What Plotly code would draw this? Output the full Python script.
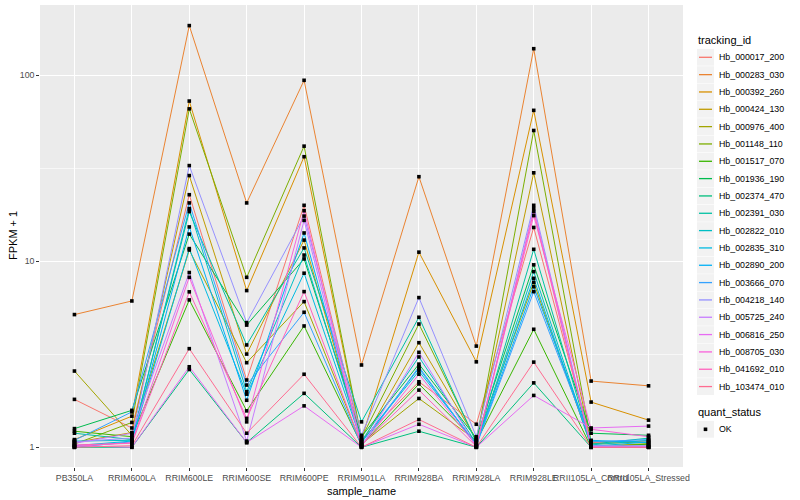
import plotly.graph_objects as go

samples = ["PB350LA", "RRIM600LA", "RRIM600LE", "RRIM600SE", "RRIM600PE", "RRIM901LA",
           "RRIM928BA", "RRIM928LA", "RRIM928LE", "RRII105LA_Control", "RRII105LA_Stressed"]

ids = ["Hb_000017_200", "Hb_000283_030", "Hb_000392_260", "Hb_000424_130", "Hb_000976_400",
       "Hb_001148_110", "Hb_001517_070", "Hb_001936_190", "Hb_002374_470", "Hb_002391_030",
       "Hb_002822_010", "Hb_002835_310", "Hb_002890_200", "Hb_003666_070", "Hb_004218_140",
       "Hb_005725_240", "Hb_006816_250", "Hb_008705_030", "Hb_041692_010", "Hb_103474_010"]

colors = ["#F8766D", "#EA8331", "#D89000", "#C09B00", "#A3A500", "#7CAE00", "#39B600", "#00BB4E",
          "#00BF7D", "#00C1A3", "#00BFC4", "#00BAE0", "#00B0F6", "#35A2FF", "#9590FF", "#C77CFF",
          "#E76BF3", "#FA62DB", "#FF62BC", "#FF6C91"]

status_labels = ["OK"]

fpkm1 = [
    [1.81, 1.27, 22.8, 2.30, 20.0, 1.09, 2.25, 1.33, 15.2, 1.06, 1.08],
    [5.17, 6.12, 185, 20.6, 94, 2.77, 28.5, 3.5, 139, 2.27, 2.14],
    [1.10, 1.47, 72.7, 6.96, 36.5, 1.10, 11.2, 2.88, 64.8, 1.75, 1.40],
    [1.06, 1.20, 28.9, 3.17, 13.0, 1.05, 3.65, 1.10, 29.9, 1.05, 1.03],
    [2.57, 1.16, 11.5, 2.85, 6.07, 1.04, 1.83, 1.09, 7.7, 1.02, 1.0],
    [1.04, 1.36, 66.0, 8.2, 41.6, 1.12, 4.6, 1.08, 50.5, 1.08, 1.05],
    [1.22, 1.14, 6.2, 1.57, 4.49, 1.03, 2.19, 1.07, 4.31, 1.0, 1.04],
    [1.26, 1.58, 14.0, 4.54, 10.3, 1.14, 2.80, 1.12, 9.57, 1.19, 1.16],
    [1.0, 1.0, 2.62, 1.06, 1.95, 1.0, 1.22, 1.0, 2.22, 1.0, 1.0],
    [1.19, 1.10, 18.5, 3.55, 11.8, 1.37, 5.0, 1.06, 11.6, 1.04, 1.12],
    [1.08, 1.09, 19.2, 1.99, 10.8, 1.08, 3.06, 1.05, 8.8, 1.03, 1.09],
    [1.02, 1.08, 11.7, 1.93, 8.63, 1.07, 2.57, 1.04, 8.1, 1.01, 1.07],
    [1.0, 1.07, 15.3, 1.79, 14.2, 1.06, 2.66, 1.03, 7.3, 1.09, 1.06],
    [1.09, 1.55, 20.6, 2.16, 5.32, 1.02, 2.71, 1.02, 6.87, 1.07, 1.10],
    [1.07, 1.12, 32.7, 4.68, 17.5, 1.16, 6.38, 1.14, 20.0, 1.02, 1.02],
    [1.05, 1.19, 8.7, 1.08, 16.6, 1.01, 3.24, 1.01, 19.2, 1.01, 1.01],
    [1.02, 1.0, 2.71, 1.06, 1.67, 1.0, 1.33, 1.0, 1.90, 1.27, 1.30],
    [1.01, 1.06, 8.2, 1.37, 18.7, 1.02, 2.47, 1.02, 17.6, 1.25, 1.14],
    [1.03, 1.05, 6.85, 1.43, 6.87, 1.03, 2.03, 1.01, 18.5, 1.0, 1.0],
    [1.0, 1.02, 3.39, 1.19, 2.47, 1.0, 1.41, 1.0, 2.87, 1.0, 1.0],
]

FONT = "Liberation Sans, Arial, sans-serif"
W, H = 800, 500
ML, MR, MT, MB = 40, 117, 5, 33
PW, PH = W - ML - MR, H - MT - MB


def px(x):
    return (x - ML) / PW


def py(y):
    return (H - MB - y) / PH


fig = go.Figure()
for name, col, vals in zip(ids, colors, fpkm1):
    fig.add_trace(go.Scatter(x=samples, y=vals, mode="lines", name=name,
                             line=dict(color=col, width=1), showlegend=False))

all_x = [s for _ in fpkm1 for s in samples]
all_y = [v for row in fpkm1 for v in row]
fig.add_trace(go.Scatter(x=all_x, y=all_y, mode="markers", name=status_labels[0],
                         marker=dict(color="black", symbol="square", size=3.6, line=dict(width=0)),
                         showlegend=False))

shapes = []
annotations = []

# legend: tracking_id
key_x0, key_x1 = 697, 714
txt_x = 717
annotations.append(dict(text="tracking_id", x=px(696), y=py(40.5), xref="paper", yref="paper",
                        xanchor="left", yanchor="middle", showarrow=False,
                        font=dict(size=11, color="black")))
for i, (name, col) in enumerate(zip(ids, colors)):
    cy = 57.3 + i * 17.33
    shapes.append(dict(type="rect", xref="paper", yref="paper",
                       x0=px(key_x0), x1=px(key_x1), y0=py(cy - 8.4), y1=py(cy + 8.4),
                       fillcolor="#F2F2F2", line=dict(width=0), layer="above"))
    shapes.append(dict(type="line", xref="paper", yref="paper",
                       x0=px(key_x0 + 2), x1=px(key_x1 - 2), y0=py(cy), y1=py(cy),
                       line=dict(color=col, width=1.3), layer="above"))
    annotations.append(dict(text=name, x=px(txt_x), y=py(cy), xref="paper", yref="paper",
                            xanchor="left", yanchor="middle", showarrow=False,
                            font=dict(size=8.8, color="black")))

# legend: quant_status
annotations.append(dict(text="quant_status", x=px(696), y=py(412.3), xref="paper", yref="paper",
                        xanchor="left", yanchor="middle", showarrow=False,
                        font=dict(size=11, color="black")))
cy = 429.3
shapes.append(dict(type="rect", xref="paper", yref="paper",
                   x0=px(key_x0), x1=px(key_x1), y0=py(cy - 8.4), y1=py(cy + 8.4),
                   fillcolor="#F2F2F2", line=dict(width=0), layer="above"))
shapes.append(dict(type="rect", xref="paper", yref="paper",
                   x0=px(705.5 - 1.8), x1=px(705.5 + 1.8), y0=py(cy - 1.8), y1=py(cy + 1.8),
                   fillcolor="black", line=dict(width=0), layer="above"))
annotations.append(dict(text=status_labels[0], x=px(txt_x), y=py(cy), xref="paper", yref="paper",
                        xanchor="left", yanchor="middle", showarrow=False,
                        font=dict(size=8.8, color="black")))

# axis titles
annotations.append(dict(text="sample_name", x=px((ML + W - MR) / 2), y=py(490.5), xref="paper", yref="paper",
                        xanchor="center", yanchor="middle", showarrow=False,
                        font=dict(size=11, color="black")))
annotations.append(dict(text="FPKM + 1", x=px(13), y=py((MT + H - MB) / 2), xref="paper", yref="paper",
                        xanchor="center", yanchor="middle", showarrow=False, textangle=-90,
                        font=dict(size=11, color="black")))

fig.update_layout(
    width=W, height=H,
    margin=dict(l=ML, r=MR, t=MT, b=MB, autoexpand=False),
    paper_bgcolor="white", plot_bgcolor="#EBEBEB",
    font=dict(family=FONT, size=9, color="black"),
    showlegend=False, hovermode=False,
    shapes=shapes, annotations=annotations,
)
fig.update_xaxes(type="category", range=[-0.6, 10.6], showgrid=True, gridcolor="white",
                 gridwidth=1.1, tickangle=0, ticks="outside", ticklen=2.75, tickwidth=0.6,
                 tickcolor="#333333", tickfont=dict(size=8.8, color="#4D4D4D"),
                 zeroline=False, showline=False, automargin=False)
fig.update_yaxes(type="log", range=[-0.106, 2.378], tickvals=[1, 10, 100], ticktext=["1", "10", "100"],
                 showgrid=True, gridcolor="white", gridwidth=1.1,
                 minor=dict(tickvals=[10 ** 0.5, 10 ** 1.5], showgrid=True, gridcolor="#F7F7F7",
                            gridwidth=0.5, ticks=""),
                 ticks="outside", ticklen=2.75, tickwidth=0.6, tickcolor="#333333",
                 tickfont=dict(size=8.8, color="#4D4D4D"),
                 zeroline=False, showline=False, automargin=False)

fig.write_html("out.html", config={"displayModeBar": False},
               post_script="document.body.style.margin='0';document.body.style.overflow='hidden';")
